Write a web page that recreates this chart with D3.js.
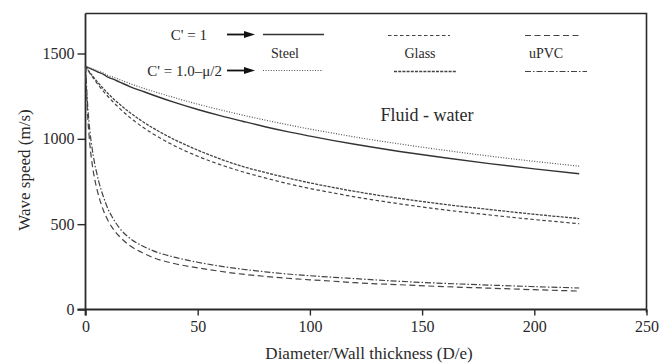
<!DOCTYPE html>
<html>
<head>
<meta charset="utf-8">
<script src="https://cdn.jsdelivr.net/npm/d3@7"></script>
<style>
  html, body { margin: 0; padding: 0; background: #ffffff; }
  svg { display: block; }
  text { font-family: "Liberation Serif", "DejaVu Serif", serif; fill: #2a2a2a; }
</style>
</head>
<body>
<svg id="chart" width="660" height="364"></svg>
<script>
// ---- Data ----
const xValues = [0, 1, 2, 3, 4, 5, 6, 8, 10, 12, 15, 20, 25, 30, 40, 50, 60, 70, 80, 90, 100, 110, 120, 140, 160, 180, 200, 220];

const steelC1     = [1425,1419,1413,1407,1401,1395,1389,1378,1361,1351,1334,1305,1281,1257,1212,1172,1136,1103,1071,1042,1016,991,968,926,889,855,824,795];
const steelCmu    = [1425,1420,1415,1410,1405,1400,1395,1386,1371,1363,1348,1323,1300,1279,1240,1203,1170,1139,1110,1083,1057,1034,1011,970,933,899,868,840];
const glassC1     = [1425,1403,1383,1364,1346,1328,1311,1278,1248,1220,1181,1123,1073,1030,957,898,849,807,771,738,709,684,660,619,584,554,527,503];
const glassCmu    = [1425,1406,1388,1371,1354,1338,1323,1294,1266,1240,1205,1152,1105,1064,993,934,882,838,803,771,742,716,692,651,616,586,558,533];
const upvcC1      = [1425,1130,960,850,770,710,660,580,522,478,430,372,335,305,268,244,224,207,194,183,174,166,157,145,134,125,116,108];
const upvcCmu     = [1425,1190,1040,940,860,800,745,660,590,540,480,415,375,345,305,277,254,236,221,208,198,189,181,165,153,143,134,126];

const xTicks = [0, 50, 100, 150, 200, 250];
const yTicks = [0, 500, 1000, 1500];
const materials = ["Steel", "Glass", "uPVC"];
const rowLabels = ["C' = 1", "C' = 1.0\u2013\u03bc/2"];
const fluidLabel = "Fluid - water";
const xTitle = "Diameter/Wall thickness (D/e)";
const yTitle = "Wave speed (m/s)";

// ---- Styles ----
const ink = "#2a2a2a";
const styles = {
  steelC1:  { dash: null,        color: "#333", width: 1.4 },
  steelCmu: { dash: "1,1.6",     color: "#555", width: 1.2 },
  glassC1:  { dash: "3.5,2.5",   color: "#444", width: 1.2 },
  glassCmu: { dash: "3,1.2",     color: "#444", width: 1.3 },
  upvcC1:   { dash: "6,3.5",     color: "#444", width: 1.2 },
  upvcCmu:  { dash: "6,2,1.5,2", color: "#444", width: 1.2 }
};

const svg = d3.select("#chart");

const x = d3.scaleLinear().domain([0, 250]).range([85.5, 646.5]);
const y = d3.scaleLinear().domain([0, 1500]).range([309.5, 53.5]);
const frameTop = 13.5;

// Frame (top and right borders)
svg.append("path")
  .attr("d", `M${x(0)},${frameTop} H${x(250)} V${y(0) + 3}`)
  .attr("fill", "none").attr("stroke", ink).attr("stroke-width", 1.6);

// Y axis
const yAxis = svg.append("g").attr("transform", `translate(${x(0)},0)`)
  .call(d3.axisLeft(y).tickValues(yTicks).tickSize(8).tickPadding(3).tickFormat(d3.format("d")));
yAxis.select(".domain").remove();
yAxis.selectAll(".tick line").attr("stroke", ink).attr("stroke-width", 1.4);
yAxis.selectAll(".tick text").attr("font-size", 16).attr("fill", ink)
  .style("font-family", '"Liberation Serif", serif');
svg.append("line").attr("x1", x(0)).attr("x2", x(0)).attr("y1", frameTop).attr("y2", y(0) + 6)
  .attr("stroke", ink).attr("stroke-width", 1.8);

// X axis
const xAxis = svg.append("g").attr("transform", `translate(0,${y(0)})`)
  .call(d3.axisBottom(x).tickValues(xTicks).tickSize(6).tickPadding(5).tickFormat(d3.format("d")));
xAxis.select(".domain").remove();
xAxis.selectAll(".tick line").attr("stroke", ink).attr("stroke-width", 1.4);
xAxis.selectAll(".tick text").attr("font-size", 16).attr("fill", ink)
  .style("font-family", '"Liberation Serif", serif');
svg.append("line").attr("x1", x(0) - 8).attr("x2", x(250)).attr("y1", y(0)).attr("y2", y(0))
  .attr("stroke", ink).attr("stroke-width", 1.8);

// Axis titles
svg.append("text").attr("x", 369).attr("y", 359).attr("text-anchor", "middle")
  .attr("font-size", 17).text(xTitle);
svg.append("text").attr("transform", "translate(30,170) rotate(-90)").attr("text-anchor", "middle")
  .attr("font-size", 17).text(yTitle);

// Curves
const line = d3.line().x((d, i) => x(xValues[i])).y(d => y(d)).curve(d3.curveMonotoneX);
const series = [
  ["steelC1", steelC1], ["steelCmu", steelCmu],
  ["glassC1", glassC1], ["glassCmu", glassCmu],
  ["upvcC1", upvcC1], ["upvcCmu", upvcCmu]
];
series.forEach(([key, vals]) => {
  const s = styles[key];
  svg.append("path").datum(vals).attr("d", line)
    .attr("fill", "none").attr("stroke", s.color).attr("stroke-width", s.width)
    .attr("stroke-dasharray", s.dash);
});

// Legend
const legendRows = [34.5, 70.5];
svg.append("text").attr("x", 207).attr("y", legendRows[0] + 5).attr("text-anchor", "end")
  .attr("font-size", 15).text(rowLabels[0]);
svg.append("text").attr("x", 222).attr("y", legendRows[1] + 5).attr("text-anchor", "end")
  .attr("font-size", 15).text(rowLabels[1]);

legendRows.forEach(ry => {
  svg.append("line").attr("x1", 227).attr("x2", 246).attr("y1", ry).attr("y2", ry)
    .attr("stroke", "#111").attr("stroke-width", 1.8);
  svg.append("path").attr("d", `M244,${ry - 3.5} L255,${ry} L244,${ry + 3.5} Z`).attr("fill", "#111");
});

const legendDefs = [
  { key: "steelC1",  x1: 263, x2: 324, y: 34.5 },
  { key: "steelCmu", x1: 263, x2: 323, y: 70.5 },
  { key: "glassC1",  x1: 388, x2: 450, y: 35.5 },
  { key: "glassCmu", x1: 394, x2: 456, y: 71.5 },
  { key: "upvcC1",   x1: 525, x2: 581, y: 35.5 },
  { key: "upvcCmu",  x1: 525, x2: 587, y: 71.5 }
];
legendDefs.forEach(d => {
  const s = styles[d.key];
  svg.append("line").attr("x1", d.x1).attr("x2", d.x2).attr("y1", d.y).attr("y2", d.y)
    .attr("stroke", s.color).attr("stroke-width", s.width).attr("stroke-dasharray", s.dash);
});
const materialX = [285, 420, 546];
materials.forEach((m, i) => {
  svg.append("text").attr("x", materialX[i]).attr("y", 58).attr("text-anchor", "middle")
    .attr("font-size", 14).text(m);
});

svg.append("text").attr("x", 427).attr("y", 121).attr("text-anchor", "middle")
  .attr("font-size", 18).text(fluidLabel);
</script>
</body>
</html>
